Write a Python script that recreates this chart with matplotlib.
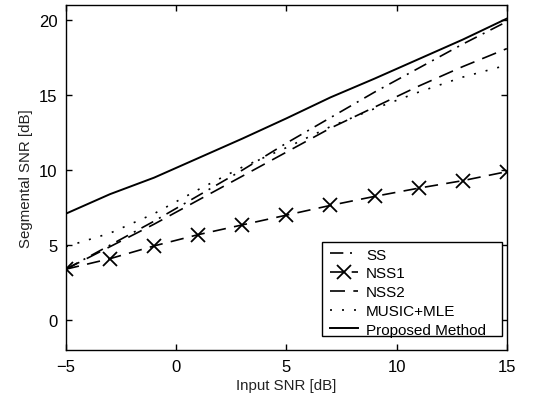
import matplotlib.pyplot as plt
from matplotlib.patches import Rectangle
from matplotlib.legend_handler import HandlerLine2D

plt.rcParams['font.family'] = ['Liberation Sans', 'DejaVu Sans']

# input SNR points
x = [-5, -3, -1, 1, 3, 5, 7, 9, 11, 13, 15]

ss = [3.4, 5.0, 6.6, 8.3, 10.0, 11.8, 13.5, 15.2, 16.8, 18.4, 19.9]
nss1 = [3.4, 4.1, 4.95, 5.7, 6.35, 7.0, 7.65, 8.25, 8.8, 9.3, 9.9]
nss2 = [3.4, 4.9, 6.4, 8.0, 9.6, 11.2, 12.8, 14.2, 15.6, 16.9, 18.1]
music = [4.9, 5.8, 7.1, 8.7, 10.2, 11.5, 12.9, 14.1, 15.2, 16.2, 17.0]
proposed = [7.1, 8.4, 9.5, 10.8, 12.1, 13.45, 14.85, 16.1, 17.4, 18.7, 20.1]

labels = ["SS", "NSS1", "NSS2", "MUSIC+MLE", "Proposed Method"]


class MarkerAtEnd(HandlerLine2D):
    # matlab style: marker sits at the right end of the legend line
    def get_xdata(self, legend, xdescent, ydescent, width, height, fontsize):
        xdata = [-xdescent, -xdescent + width]
        return xdata, [-xdescent + width * 0.85]


fig = plt.figure(figsize=(5.45, 4.06), dpi=100)
ax = fig.add_axes([0.121, 0.135, 0.809, 0.85])

lw = 1.2
ax.plot(x, ss, color="k", lw=lw, dashes=(8, 4, 1.2, 4), label=labels[0])
l_nss1, = ax.plot(x, nss1, color="k", lw=lw, dashes=(8, 5), marker="x",
                  ms=10, mew=1.3, label=labels[1])
ax.plot(x, nss2, color="k", lw=lw, dashes=(9, 5), label=labels[2])
ax.plot(x, music, color="k", lw=lw, dashes=(1.2, 6), label=labels[3])
ax.plot(x, proposed, color="k", lw=1.4, label=labels[4])

ax.set_xlim(-5, 15)
ax.set_ylim(-2, 21)
ax.set_xticks([-5, 0, 5, 10, 15])
ax.set_yticks([0, 5, 10, 15, 20])
ax.set_xticklabels(["\u22125", "0", "5", "10", "15"])
ax.tick_params(direction="in", top=True, right=True, labelsize=12, length=4,
               width=1.0, colors="k", pad=6)
for s in ax.spines.values():
    s.set_linewidth(1.0)

ax.set_xlabel("Input SNR [dB]", fontsize=10.8, color="#222222", labelpad=3)
ax.set_ylabel("Segmental SNR [dB]", fontsize=10.8, color="#222222")

leg = ax.legend(loc="upper left", fontsize=11, frameon=False,
                handlelength=1.85, borderpad=0, labelspacing=0.31,
                handletextpad=0.5, borderaxespad=0,
                bbox_to_anchor=(0.599, 0.297),
                handler_map={l_nss1: MarkerAtEnd(numpoints=1)})

# legend frame drawn separately, wider padding on the right like the original
ax.add_patch(Rectangle((0.5805, 0.0406), 0.4082, 0.2724, transform=ax.transAxes,
                       facecolor="white", edgecolor="k", lw=1.0, zorder=4))
leg.set_zorder(5)

fig.savefig("out.png", dpi=100)
